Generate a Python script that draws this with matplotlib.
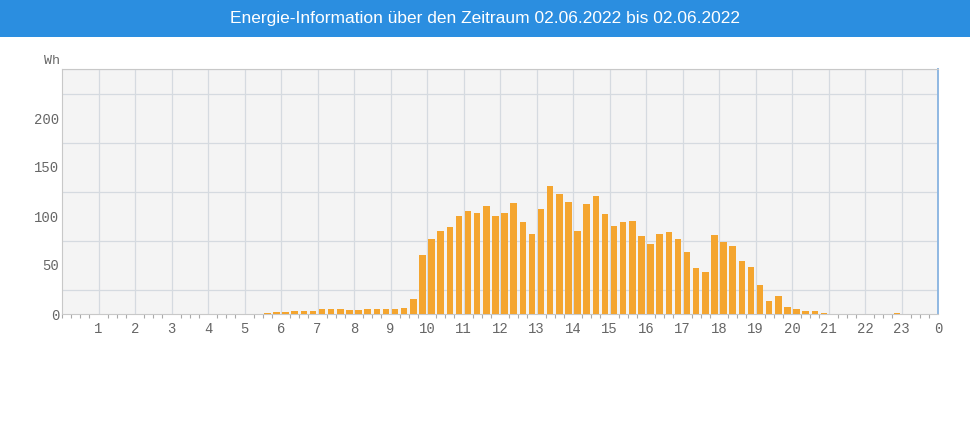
import numpy as np
import matplotlib
matplotlib.use('Agg')
import matplotlib.pyplot as plt

# quarter-hour energy values (Wh), slot 0 = 00:00-00:15
values = [0.0] * 96
values[22:39] = [1.5, 2.5, 2.5, 3.4, 3.4, 3.4, 4.8, 4.8, 5.5, 4.0, 4.0,
                 5.0, 5.0, 5.0, 5.0, 6.2, 15.3]
values[39:84] = [60, 76.5, 84.5, 88.5, 99.5, 105.5, 103.5, 110.5, 99.5,
                 103.5, 113.5, 94, 81.5, 107.5, 130.5, 122.5, 114.5, 84.5,
                 112, 120.5, 102.5, 90, 93.5, 95, 79.5, 71.5, 82, 84,
                 77, 63.5, 46.5, 43, 81, 73.5, 69.5, 54.5, 48, 29.5, 13.5,
                 18.5, 7, 5.5, 3.4, 3.4, 1.4]
values[91] = 1.5
hour_labels = [str(h) for h in range(1, 24)] + ['0']
title = "Energie-Information über den Zeitraum 02.06.2022 bis 02.06.2022"

fig = plt.figure(figsize=(9.72, 4.30), dpi=100)
fig.patch.set_facecolor('white')

# title banner
banner = fig.add_axes([0, 1 - 37 / 430, 970 / 972, 37 / 430])
banner.set_facecolor('#2b8ee0')
banner.set_xticks([])
banner.set_yticks([])
for s in banner.spines.values():
    s.set_visible(False)
banner.text(0.5, 0.5, title, color='white', ha='center', va='center',
            fontsize=12.5, family='Liberation Sans', transform=banner.transAxes)

ax = fig.add_axes([62 / 972, 1 - 314 / 430, 876 / 972, 245 / 430])
ax.set_facecolor('#f4f4f4')

x = np.arange(96) * 0.25 + 0.125
ax.bar(x, values, width=0.175, color='#f4a52f', zorder=3)

ax.set_xlim(0, 24)
ax.set_ylim(0, 250)

ax.set_xticks(np.arange(1, 25))
ax.set_xticklabels(hour_labels)
ax.set_xticks(np.arange(0, 24.01, 0.25), minor=True)
ax.set_yticks([0, 50, 100, 150, 200])
ax.set_yticks(np.arange(0, 251, 25), minor=True)

ax.grid(True, which='major', axis='x', color='#d5dae0', linewidth=0.9, zorder=0)
ax.grid(True, which='minor', axis='y', color='#d5dae0', linewidth=0.9, zorder=0)

mono = 'Liberation Mono'
ax.tick_params(axis='x', which='major', length=0, pad=6, labelsize=10,
               labelcolor='#666666')
ax.tick_params(axis='x', which='minor', length=3, color='#aaaaaa', width=0.8)
ax.tick_params(axis='y', which='both', length=0, pad=2, labelsize=10,
               labelcolor='#666666')
for lab in ax.get_xticklabels() + ax.get_yticklabels():
    lab.set_family(mono)

for side in ['left', 'top', 'bottom']:
    ax.spines[side].set_color('#c8c8c8')
ax.spines['right'].set_color('#8fb8e2')
ax.spines['right'].set_linewidth(1.4)

ax.text(-0.06, 252, 'Wh', ha='right', va='bottom', fontsize=9.5,
        family=mono, color='#666666')

fig.savefig('out.png', dpi=100)
